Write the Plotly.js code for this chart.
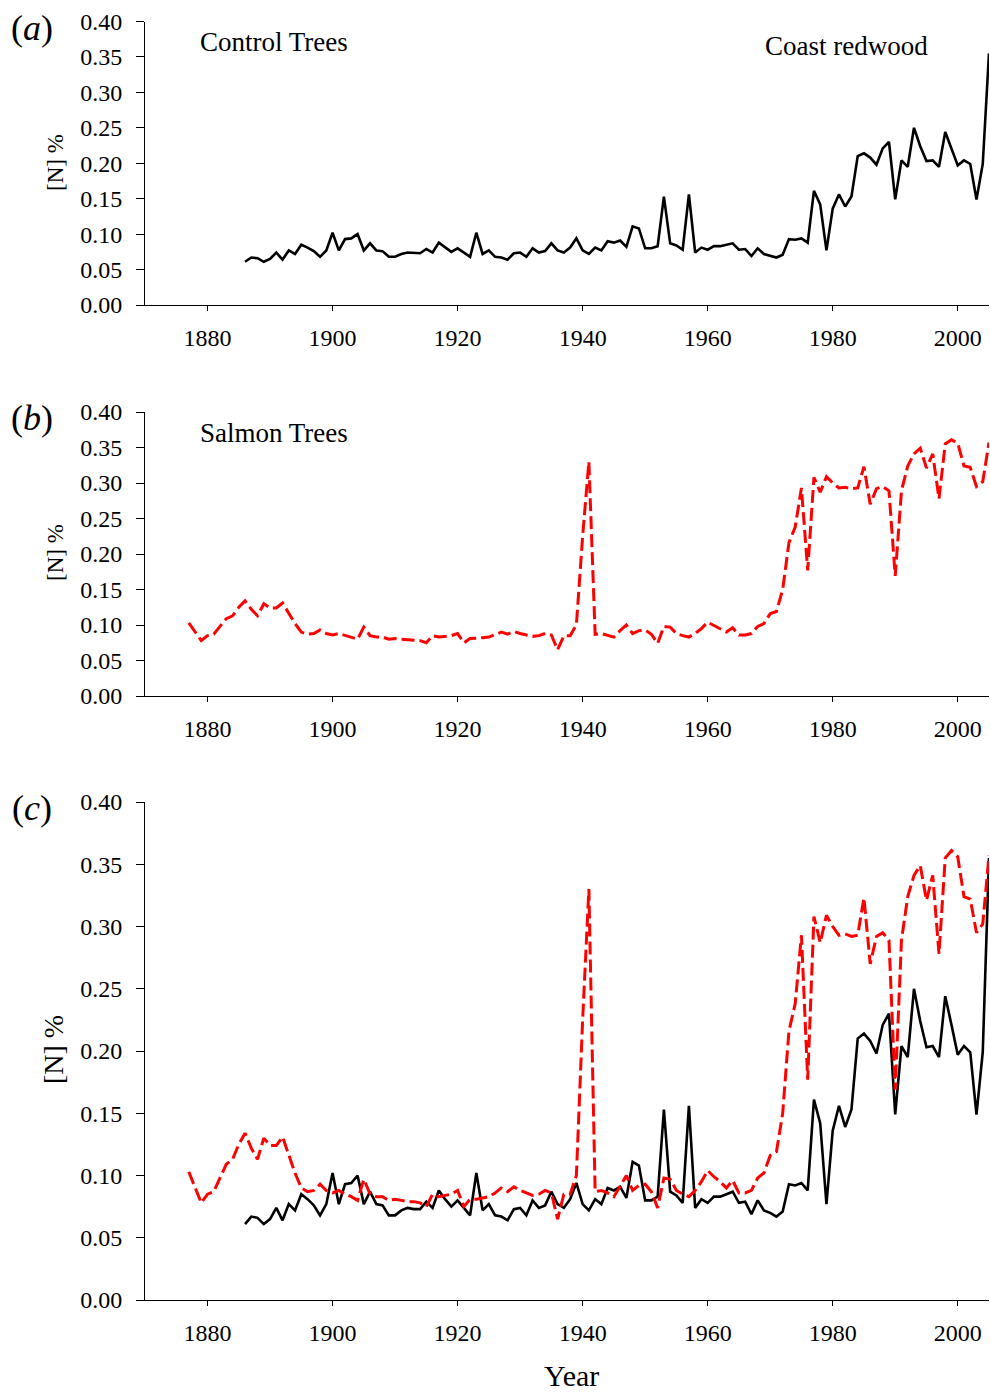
<!DOCTYPE html>
<html>
<head>
<meta charset="utf-8">
<script src="https://cdn.plot.ly/plotly-3.0.1.min.js"></script>
<style>html,body{margin:0;padding:0;background:#fff}#chart{width:990px;height:1395px}</style>
</head>
<body>
<div id="chart"></div>
<script>
// Control trees (Coast redwood), annual [N] %, 1886-2005
const controlStartYear = 1886;
const controlN = [
0.061,0.067,0.066,0.061,0.065,0.074,0.064,0.077,0.072,0.085,
0.081,0.076,0.068,0.077,0.102,0.077,0.093,0.094,0.100,0.077,
0.087,0.077,0.076,0.068,0.068,0.072,0.074,0.073,0.073,0.079,
0.074,0.088,0.081,0.075,0.080,0.074,0.068,0.102,0.072,0.077,
0.068,0.067,0.064,0.073,0.074,0.068,0.080,0.074,0.076,0.087,
0.077,0.074,0.081,0.094,0.077,0.072,0.081,0.077,0.090,0.088,
0.091,0.082,0.111,0.108,0.080,0.080,0.083,0.153,0.087,0.084,
0.078,0.156,0.074,0.081,0.078,0.083,0.083,0.085,0.087,0.078,
0.079,0.069,0.080,0.072,0.070,0.067,0.071,0.093,0.092,0.094,
0.088,0.161,0.142,0.077,0.136,0.156,0.139,0.153,0.210,0.214,
0.208,0.198,0.221,0.230,0.149,0.204,0.195,0.250,0.224,0.203,
0.204,0.195,0.244,0.221,0.197,0.204,0.199,0.149,0.199,0.355
];
// Salmon trees, annual [N] %, 1877-2005
const salmonStartYear = 1877;
const salmonN = [
0.103,0.090,0.078,0.085,0.087,0.098,0.109,0.113,0.125,0.134,
0.122,0.113,0.130,0.124,0.124,0.131,0.116,0.102,0.090,0.087,
0.088,0.093,0.088,0.086,0.088,0.085,0.083,0.080,0.097,0.085,
0.083,0.083,0.080,0.081,0.080,0.079,0.079,0.078,0.075,0.085,
0.083,0.084,0.085,0.088,0.075,0.081,0.081,0.082,0.083,0.086,
0.090,0.087,0.091,0.088,0.086,0.084,0.085,0.088,0.086,0.065,
0.085,0.085,0.100,0.225,0.330,0.087,0.088,0.086,0.083,0.092,
0.100,0.088,0.092,0.093,0.087,0.074,0.098,0.097,0.088,0.085,
0.083,0.088,0.095,0.104,0.099,0.095,0.090,0.096,0.086,0.086,
0.088,0.098,0.102,0.116,0.119,0.150,0.216,0.238,0.293,0.177,
0.308,0.287,0.309,0.300,0.293,0.294,0.292,0.293,0.323,0.270,
0.292,0.295,0.289,0.169,0.289,0.324,0.341,0.349,0.321,0.341,
0.278,0.355,0.361,0.356,0.324,0.322,0.295,0.302,0.357
];
const xTickVals = [1880, 1900, 1920, 1940, 1960, 1980, 2000];
const yTickVals = [0, 0.05, 0.10, 0.15, 0.20, 0.25, 0.30, 0.35, 0.40];
const panelLabels = ['a', 'b', 'c'];
const seriesNames = ['Control Trees', 'Salmon Trees'];
const speciesName = 'Coast redwood';
const yTitle = '[N] %';
const xTitle = 'Year';

const controlYears = controlN.map((_, i) => controlStartYear + i);
const salmonYears = salmonN.map((_, i) => salmonStartYear + i);

const W = 990, H = 1395;
const FONT = 'Liberation Serif, Times New Roman, serif';
const px = v => v / W;
const py = v => 1 - v / H;

const black = {color: '#000000', width: 2.6};
const red = {color: '#ff0000', width: 3, dash: '13px,5px'};

const traces = [
  {x: controlYears, y: controlN, xaxis: 'x', yaxis: 'y', mode: 'lines', line: black, name: seriesNames[0]},
  {x: salmonYears, y: salmonN, xaxis: 'x2', yaxis: 'y2', mode: 'lines', line: red, name: seriesNames[1]},
  {x: controlYears, y: controlN, xaxis: 'x3', yaxis: 'y3', mode: 'lines', line: black, name: seriesNames[0]},
  {x: salmonYears, y: salmonN, xaxis: 'x3', yaxis: 'y3', mode: 'lines', line: red, name: seriesNames[1]}
];

function xax(anchor) {
  return {
    anchor: anchor, domain: [px(145), px(989)], range: [1870, 2005],
    tickmode: 'array', tickvals: xTickVals, ticktext: xTickVals.map(String),
    ticks: 'outside', ticklen: 5, tickwidth: 1, tickcolor: '#000',
    showline: true, linecolor: '#000', linewidth: 1,
    showgrid: false, zeroline: false, fixedrange: true,
    tickfont: {family: FONT, size: 24, color: '#000'}, ticklabelstandoff: 6
  };
}
function yax(anchor, top, bottom) {
  return {
    anchor: anchor, domain: [py(bottom), py(top)], range: [0, 0.40],
    tickmode: 'array', tickvals: yTickVals, ticktext: yTickVals.map(v => v.toFixed(2)),
    ticks: 'outside', ticklen: 8, tickwidth: 1, tickcolor: '#000',
    showline: true, linecolor: '#000', linewidth: 1,
    showgrid: false, zeroline: false, fixedrange: true,
    tickfont: {family: FONT, size: 24, color: '#000'}, ticklabelstandoff: 9
  };
}

const ann = [];
function txt(text, x, y, size, opts) {
  ann.push(Object.assign({text: text, x: px(x), y: py(y), xref: 'paper', yref: 'paper',
    showarrow: false, font: {family: FONT, size: size, color: '#000'},
    xanchor: 'center', yanchor: 'middle'}, opts || {}));
}
txt('(<i>' + panelLabels[0] + '</i>)', 32, 28, 36);
txt('(<i>' + panelLabels[1] + '</i>)', 32, 418, 36);
txt('(<i>' + panelLabels[2] + '</i>)', 32, 808, 36);
txt(seriesNames[0], 198, 42, 27, {xanchor: 'left'});
txt(speciesName, 763, 46, 27, {xanchor: 'left'});
txt(seriesNames[1], 198, 433, 27, {xanchor: 'left'});
txt(yTitle, 55, 163, 23, {textangle: -90});
txt(yTitle, 55, 553, 23, {textangle: -90});
txt(yTitle, 53, 1050, 28, {textangle: -90});
txt(xTitle, 571, 1375, 30);

const layout = {
  width: W, height: H, margin: {l: 0, r: 0, t: 0, b: 0},
  paper_bgcolor: '#fff', plot_bgcolor: '#fff', showlegend: false,
  xaxis: xax('y'), yaxis: yax('x', 21.5, 305),
  xaxis2: xax('y2'), yaxis2: yax('x2', 412, 696),
  xaxis3: xax('y3'), yaxis3: yax('x3', 802, 1300),
  annotations: ann
};

Plotly.newPlot('chart', traces, layout, {displayModeBar: false, staticPlot: true});
</script>
</body>
</html>
